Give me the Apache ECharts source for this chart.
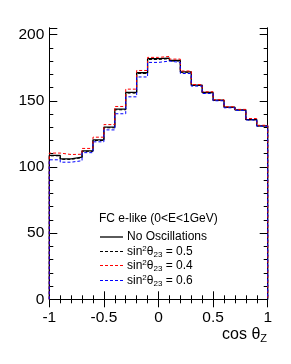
<!DOCTYPE html>
<html>
<head>
<meta charset="utf-8">
<script src="https://cdn.jsdelivr.net/npm/echarts@6/dist/echarts.min.js"></script>
<style>html,body{margin:0;padding:0;background:#fff;}#c{width:291px;height:364px;}</style>
</head>
<body>
<div id="c"></div>
<script>
// bin edges of cos(theta_Z): 20 bins from -1 to 1
const binEdges = [-1,-0.9,-0.8,-0.7,-0.6,-0.5,-0.4,-0.3,-0.2,-0.1,0,0.1,0.2,0.3,0.4,0.5,0.6,0.7,0.8,0.9,1];
const noOsc = [108.8,106.1,107.4,112.2,120.5,130.1,143.7,156.3,171.2,181.8,182.3,180.5,171.9,161.9,156.3,150.5,145.2,143.2,135.8,131.1];
const s05   = [108.4,105.7,107.0,111.8,120.0,129.6,143.2,155.8,170.6,181.2,181.8,180.0,171.5,161.6,156.0,150.3,145.0,143.0,135.6,131.0];
const s04   = [110.5,109.4,109.6,114.0,122.5,132.0,145.7,158.8,172.9,182.8,183.5,181.5,172.5,162.3,156.8,150.8,145.5,143.5,136.6,131.5];
const s06   = [105.4,103.6,104.7,110.8,119.0,128.0,140.2,153.0,168.0,179.0,180.0,179.0,170.6,161.1,155.5,150.0,144.7,142.8,135.5,130.8];
const yTicks = [0,50,100,150,200];
const legendTitle = 'FC e-like (0<E<1GeV)';
const seriesNames = ['No Oscillations','s05','s04','s06'];

function hist(vals){
  const pts = [[binEdges[0],0]];
  for(let i=0;i<vals.length;i++) pts.push([binEdges[i],vals[i]]);
  pts.push([binEdges[binEdges.length-1],vals[vals.length-1]]);
  pts.push([binEdges[binEdges.length-1],0]);
  return pts;
}
const FONT='Liberation Sans';
const chart = echarts.init(document.getElementById('c'));
const xBase = {type:'value',min:-1,max:1,interval:0.5,gridIndex:0,
  axisLine:{show:true,lineStyle:{color:'#000',width:1}},
  axisTick:{show:true,inside:true,length:8,lineStyle:{color:'#000'}},
  minorTick:{show:true,splitNumber:5,length:4,lineStyle:{color:'#000'}},
  splitLine:{show:false},minorSplitLine:{show:false}};
function yAx(pos,interval,len,labels){
  return {type:'value',min:0,max:205,interval:interval,position:pos,gridIndex:0,
    axisLine:{show:true,onZero:false,lineStyle:{color:'#000',width:1}},
    axisTick:{show:true,inside:true,length:len,lineStyle:{color:'#000'}},
    splitLine:{show:false},
    axisLabel:labels?{show:true,margin:5,color:'#000',fontFamily:FONT,fontSize:15.5,
      formatter:v=>yTicks.indexOf(v)>=0?String(v):''}:{show:false}};
}
const styles = {
  'No Oscillations':{color:'#000',width:1.3,type:'solid'},
  's05':{color:'#000',width:1,type:[3,2]},
  's04':{color:'#ff0000',width:1,type:[3,2]},
  's06':{color:'#0000ff',width:1,type:[3,2]}
};
const labelMap={
  'No Oscillations':'{a|No Oscillations}',
  's05':'{a|sin}{sup|2}{a|θ}{sub|23}{a| = 0.5}',
  's04':'{a|sin}{sup|2}{a|θ}{sub|23}{a| = 0.4}',
  's06':'{a|sin}{sup|2}{a|θ}{sub|23}{a| = 0.6}'
};
const rich = {
  a:{fontSize:12,lineHeight:14,fontFamily:FONT,fill:'#000'},
  sup:{fontSize:8,lineHeight:8,verticalAlign:'top',fontFamily:FONT,fill:'#000'},
  sub:{fontSize:8,lineHeight:8,verticalAlign:'bottom',fontFamily:FONT,fill:'#000'}
};
const legendY = [237,251.5,265.5,280.5];
const graphics = [
  {type:'text',left:99,top:213,style:{text:legendTitle,font:'12px "Liberation Sans"',fill:'#000'}},
  {type:'text',right:24,top:327,style:{rich:{a:{fontSize:16,fontFamily:FONT,fill:'#000',lineHeight:18},
    s:{fontSize:11,fontFamily:FONT,fill:'#000',lineHeight:8,verticalAlign:'bottom'}},
    text:'{a|cos θ}{s|Z}'}}
];
seriesNames.forEach((n,i)=>{
  const st = styles[n];
  graphics.push({type:'line',shape:{x1:100,y1:legendY[i],x2:123,y2:legendY[i]},
    style:{stroke:st.color,lineWidth:st.width,lineDash:st.type==='solid'?null:st.type}});
  graphics.push({type:'text',x:127,y:legendY[i],style:{text:labelMap[n],rich:rich,verticalAlign:'middle',align:'left'}});
});
chart.setOption({
  animation:false,
  grid:{left:49.3,right:23.3,top:28,bottom:64.7,containLabel:false},
  xAxis:[
    Object.assign({},xBase,{position:'bottom',axisLabel:{show:true,margin:10,color:'#000',fontFamily:FONT,fontSize:15.5}}),
    Object.assign({},xBase,{position:'top',axisLabel:{show:false}})
  ],
  yAxis:[yAx('left',50,8,true),yAx('left',10,4,false),yAx('right',50,8,false),yAx('right',10,4,false)],
  graphic:graphics,
  series:[noOsc,s05,s04,s06].map((vals,i)=>{
    const n = seriesNames[i], st = styles[n];
    return {name:n,type:'line',step:'end',data:hist(vals),symbol:'none',
      lineStyle:{color:st.color,width:st.width,type:st.type},itemStyle:{color:st.color},z:2+i};
  })
});
</script>
</body>
</html>
